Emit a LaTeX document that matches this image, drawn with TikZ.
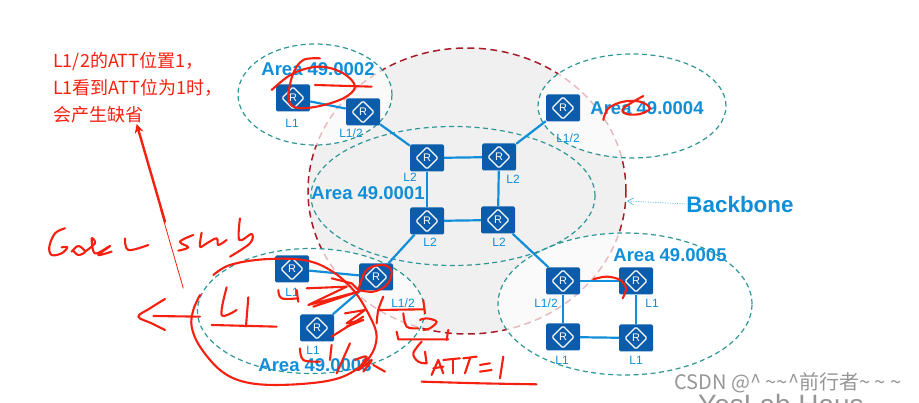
\documentclass[tikz,border=0pt]{standalone}
\usepackage{xcolor}
\usepackage{fontspec}
\setmainfont{Liberation Sans}
\newfontfamily\cjk{Noto Sans CJK SC}
\definecolor{isBlue}{RGB}{11,92,171}
\definecolor{isLink}{RGB}{16,143,216}
\definecolor{isTeal}{RGB}{46,150,150}
\definecolor{isWine}{RGB}{168,28,42}
\definecolor{isInk}{RGB}{246,32,16}
\definecolor{isGrey}{RGB}{150,150,150}
\usepackage{tikz}
\usetikzlibrary{positioning,arrows.meta,calc,shapes.geometric}

\begin{document}
\begin{tikzpicture}[x=1pt,y=-1pt,
  rt/.style={fill=isBlue,rounded corners=1.5pt,minimum width=34pt,minimum height=27pt,inner sep=0pt,
    text=white,font=\fontsize{11}{11}\selectfont,
    path picture={\draw[white,line width=1.2pt] ($(path picture bounding box.center)+(-11,0)$) -- ++(11,-11) -- ++(11,11) -- ++(-11,11) -- cycle;}},
  lnk/.style={isLink,line width=2.2pt},
  lab/.style={text=isLink,font=\fontsize{12}{12}\selectfont,inner sep=0pt},
  area/.style={ellipse,draw=isTeal,line width=1.2pt,dash pattern=on 5pt off 3.5pt,inner sep=0pt,fill=white,fill opacity=.7},
  atxt/.style={text=isLink,font=\bfseries\fontsize{18.5}{18.5}\selectfont,inner sep=0pt},
  ink/.style={isInk,line width=2.1pt,line cap=round,line join=round},
  inkc/.style={ink,smooth,tension=.6}]
  \useasboundingbox (0,0) rectangle (919,403);

  % backbone and areas
  \node[ellipse,draw=isWine,line width=1.5pt,dash pattern=on 7pt off 4.5pt,fill=black!6,minimum width=318pt,minimum height=286pt,inner sep=0pt] (core) at (467,191) {};
  \node[area,minimum width=154pt,minimum height=101pt] (area2) at (315,94.5) {};
  \node[area,minimum width=188pt,minimum height=104pt] (area4) at (632,106) {};
  \node[area,minimum width=227pt,minimum height=125pt] (area3) at (311,311) {};
  \node[area,minimum width=254pt,minimum height=142pt] (area5) at (625,304) {};
  \node[area,fill=none,minimum width=284pt,minimum height=139pt] (area1) at (453,196) {};

  % routers
  \node[rt] (a2l) at (293,98) {R};
  \node[rt] (a2b) at (363,112) {R};
  \node[rt] (c1) at (427,158) {R};
  \node[rt] (c2) at (499,157) {R};
  \node[rt] (c3) at (427,221) {R};
  \node[rt] (c4) at (498,220) {R};
  \node[rt] (a4b) at (563,108) {R};
  \node[rt] (a3a) at (292,269) {R};
  \node[rt] (a3b) at (376,277) {R};
  \node[rt] (a3c) at (317,328) {R};
  \node[rt] (a5b) at (563,281) {R};
  \node[rt] (a5a) at (636,281) {R};
  \node[rt] (a5c) at (563,337) {R};
  \node[rt] (a5d) at (636,338) {R};

  \draw[lnk] (a2l) -- (a2b);
  \draw[lnk] (a2b) -- (c1);
  \draw[lnk] (c1) -- (c2);
  \draw[lnk] (c1) -- (c3);
  \draw[lnk] (c2) -- (c4);
  \draw[lnk] (c3) -- (c4);
  \draw[lnk] (a4b) -- (c2);
  \draw[lnk] (c3) -- (a3b);
  \draw[lnk] (a3a) -- (a3b);
  \draw[lnk] (a3c) -- (a3b);
  \draw[lnk] (c4) -- (a5b);
  \draw[lnk] (a5b) -- (a5a);
  \draw[lnk] (a5b) -- (a5c);
  \draw[lnk] (a5a) -- (a5d);
  \draw[lnk] (a5c) -- (a5d);

  % router levels
  \node[lab] (t1) at (292,123) {L1};
  \node[lab] (t2) at (351,133) {L1/2};
  \node[lab] (t3) at (410,177) {L2};
  \node[lab] (t4) at (513,179) {L2};
  \node[lab] (t5) at (430,242) {L2};
  \node[lab] (t6) at (499,242) {L2};
  \node[lab] (t7) at (568,138) {L1/2};
  \node[lab] (t8) at (292,292) {L1};
  \node[lab] (t9) at (403,303) {L1/2};
  \node[lab] (t10) at (313,350) {L1};
  \node[lab] (t11) at (546,303) {L1/2};
  \node[lab] (t12) at (652,303) {L1};
  \node[lab] (t13) at (562,360) {L1};
  \node[lab] (t14) at (636,360) {L1};

  \node[atxt] (n2) at (318,69) {Area 49.0002};
  \node[atxt] (n1) at (368,193) {Area 49.0001};
  \node[atxt] (n4) at (647,108) {Area 49.0004};
  \node[atxt] (n3) at (315,365) {Area 49.0003};
  \node[atxt] (n5) at (670,255) {Area 49.0005};
  \node[atxt,font=\bfseries\fontsize{22.4}{22.4}\selectfont] (bb) at (740,204) {Backbone};
  \coordinate (bbtip) at (627,201);
  \draw[isLink!70,densely dotted,line width=.7pt,-{Straight Barb[length=6pt,width=7pt]}] (bb.west) -- (bbtip);

  \node[anchor=north west,align=left,text=isInk,inner sep=0pt,font=\cjk\fontsize{18}{27}\selectfont] (note) at (53,52) {L1/2的ATT位置1，\\L1看到ATT位为1时，\\会产生缺省};

  % video watermark
  \node[text=isGrey,font=\fontsize{28}{28}\selectfont,inner sep=0pt] (wm2) at (781,404) {YesLab Haus};
  \node[text=isGrey,font=\cjk\fontsize{20}{20}\selectfont,inner sep=0pt] (wm1) at (788,383) {CSDN @\textasciicircum\ \textasciitilde\textasciitilde\textasciicircum 前行者\textasciitilde\ \textasciitilde\ \textasciitilde};

  % pen strokes, top left
  \begin{scope}[shift={(0,30)},x=.3333pt,y=-.3333pt]
    \draw[inkc] plot coordinates {(815,180) (880,130) (960,110) (1030,130) (1065,170) (1030,205) (950,230) (885,232) (865,200) (880,130) (910,90) (960,85)};
    \draw[ink] (945,165) -- (1115,170);
    \draw[ink,line width=2.4pt,-{Stealth[length=9pt,width=9pt]}] (495,575) -- (410,282);
  \end{scope}

  % pen strokes, area 4 and area 5
  \begin{scope}[shift={(480,40)},x=.3333pt,y=-.3333pt]
    \draw[inkc] plot coordinates {(370,240) (385,205) (430,185) (480,185) (510,205) (480,222) (440,222) (430,205) (490,168)};
    \draw[inkc] plot coordinates {(340,718) (380,710) (420,720) (438,745) (428,775)};
  \end{scope}

  % pen strokes, lower left
  \begin{scope}[shift={(30,210)},x=.3333pt,y=-.3333pt]
    \draw[isInk,line width=.8pt] (392,0) -- (460,235);
    % Godsu
    \draw[inkc] plot coordinates {(105,55) (75,70) (58,110) (65,135) (95,130) (112,112) (95,112)};
    \draw[inkc] plot coordinates {(125,125) (145,108) (165,125) (145,135) (130,122)};
    \draw[inkc] plot coordinates {(165,125) (195,100) (185,85) (195,130) (240,108) (205,135) (245,125)};
    \draw[inkc] plot coordinates {(285,85) (295,120) (355,105)};
    % stub
    \draw[inkc] plot coordinates {(490,75) (450,95) (475,112) (445,122)};
    \draw[inkc] plot coordinates {(515,68) (510,110) (530,100) (560,85) (565,105) (590,90)};
    \draw[inkc] plot coordinates {(630,25) (628,90) (665,72) (660,100) (600,140)};
    % loop and arrow out of it
    \draw[inkc] plot coordinates {(550,195) (600,165) (700,148) (820,150) (900,180) (970,240) (1020,320) (1040,380) (1020,440) (960,490) (880,515) (740,525) (640,515) (570,480) (510,410) (485,350) (490,300) (510,255)};
    \draw[ink] (370,318) -- (510,320);
    \draw[inkc] plot coordinates {(405,267) (360,295) (325,320) (365,340) (405,360)};
    % L1 inside the loop
    \draw[inkc] plot coordinates {(590,232) (575,315) (620,300)};
    \draw[ink] (655,262) -- (648,350);
    \draw[ink] (545,345) -- (740,350);
    % L1 and lsp marks by the routers
    \draw[inkc] plot coordinates {(745,240) (755,265) (805,265)};
    \draw[ink] (800,240) -- (805,275);
    \draw[ink] (830,235) -- (950,230) -- (835,285) -- (985,245) -- (850,290);
    \draw[ink] (905,205) -- (965,220) -- (985,240);
    \draw[inkc] plot coordinates {(985,240) (1010,180) (1060,165) (1085,185) (1070,225) (1030,245) (985,240)};
    \draw[ink] (945,310) -- (1005,300) -- (950,340) -- (1000,330) -- (950,350);
    \draw[ink] (905,380) -- (1000,320);
    \draw[inkc] plot coordinates {(1060,260) (1045,300) (1040,340)};
    \draw[ink] (1045,300) -- (1180,298);
    \draw[ink] (1180,270) -- (1185,310);
    % LSP
    \draw[inkc] plot coordinates {(1120,310) (1130,350) (1165,355)};
    \draw[inkc] plot coordinates {(1170,330) (1190,325) (1220,335) (1200,355) (1180,360)};
    \draw[ink] (1100,365) -- (1105,388) -- (1255,388);
    \draw[ink] (1255,360) -- (1250,390);
    \draw[inkc] plot coordinates {(1175,395) (1150,430) (1165,455) (1190,460)};
    \draw[ink] (1185,425) -- (1190,460);
    % ATT=1
    \draw[ink] (1205,495) -- (1225,450) -- (1240,490);
    \draw[ink] (1210,475) -- (1240,470);
    \draw[ink] (1240,450) -- (1290,445);
    \draw[ink] (1270,450) -- (1270,490);
    \draw[ink] (1300,445) -- (1340,440);
    \draw[ink] (1320,445) -- (1305,490);
    \draw[ink] (1350,465) -- (1380,460);
    \draw[ink] (1350,485) -- (1385,480);
    \draw[ink] (1420,440) -- (1410,505);
    \draw[inkc] plot coordinates {(1175,515) (1350,520) (1520,523)};
    % L1/2 over the area name
    \draw[inkc] plot coordinates {(810,415) (820,450) (870,455)};
    \draw[ink] (905,405) -- (900,450);
    \draw[ink] (960,400) -- (920,490);
    \draw[inkc] plot coordinates {(975,450) (1010,440) (985,480) (1025,450) (1000,485)};
    \draw[ink] (1030,465) -- (1065,485);
  \end{scope}
\end{tikzpicture}
\end{document}
